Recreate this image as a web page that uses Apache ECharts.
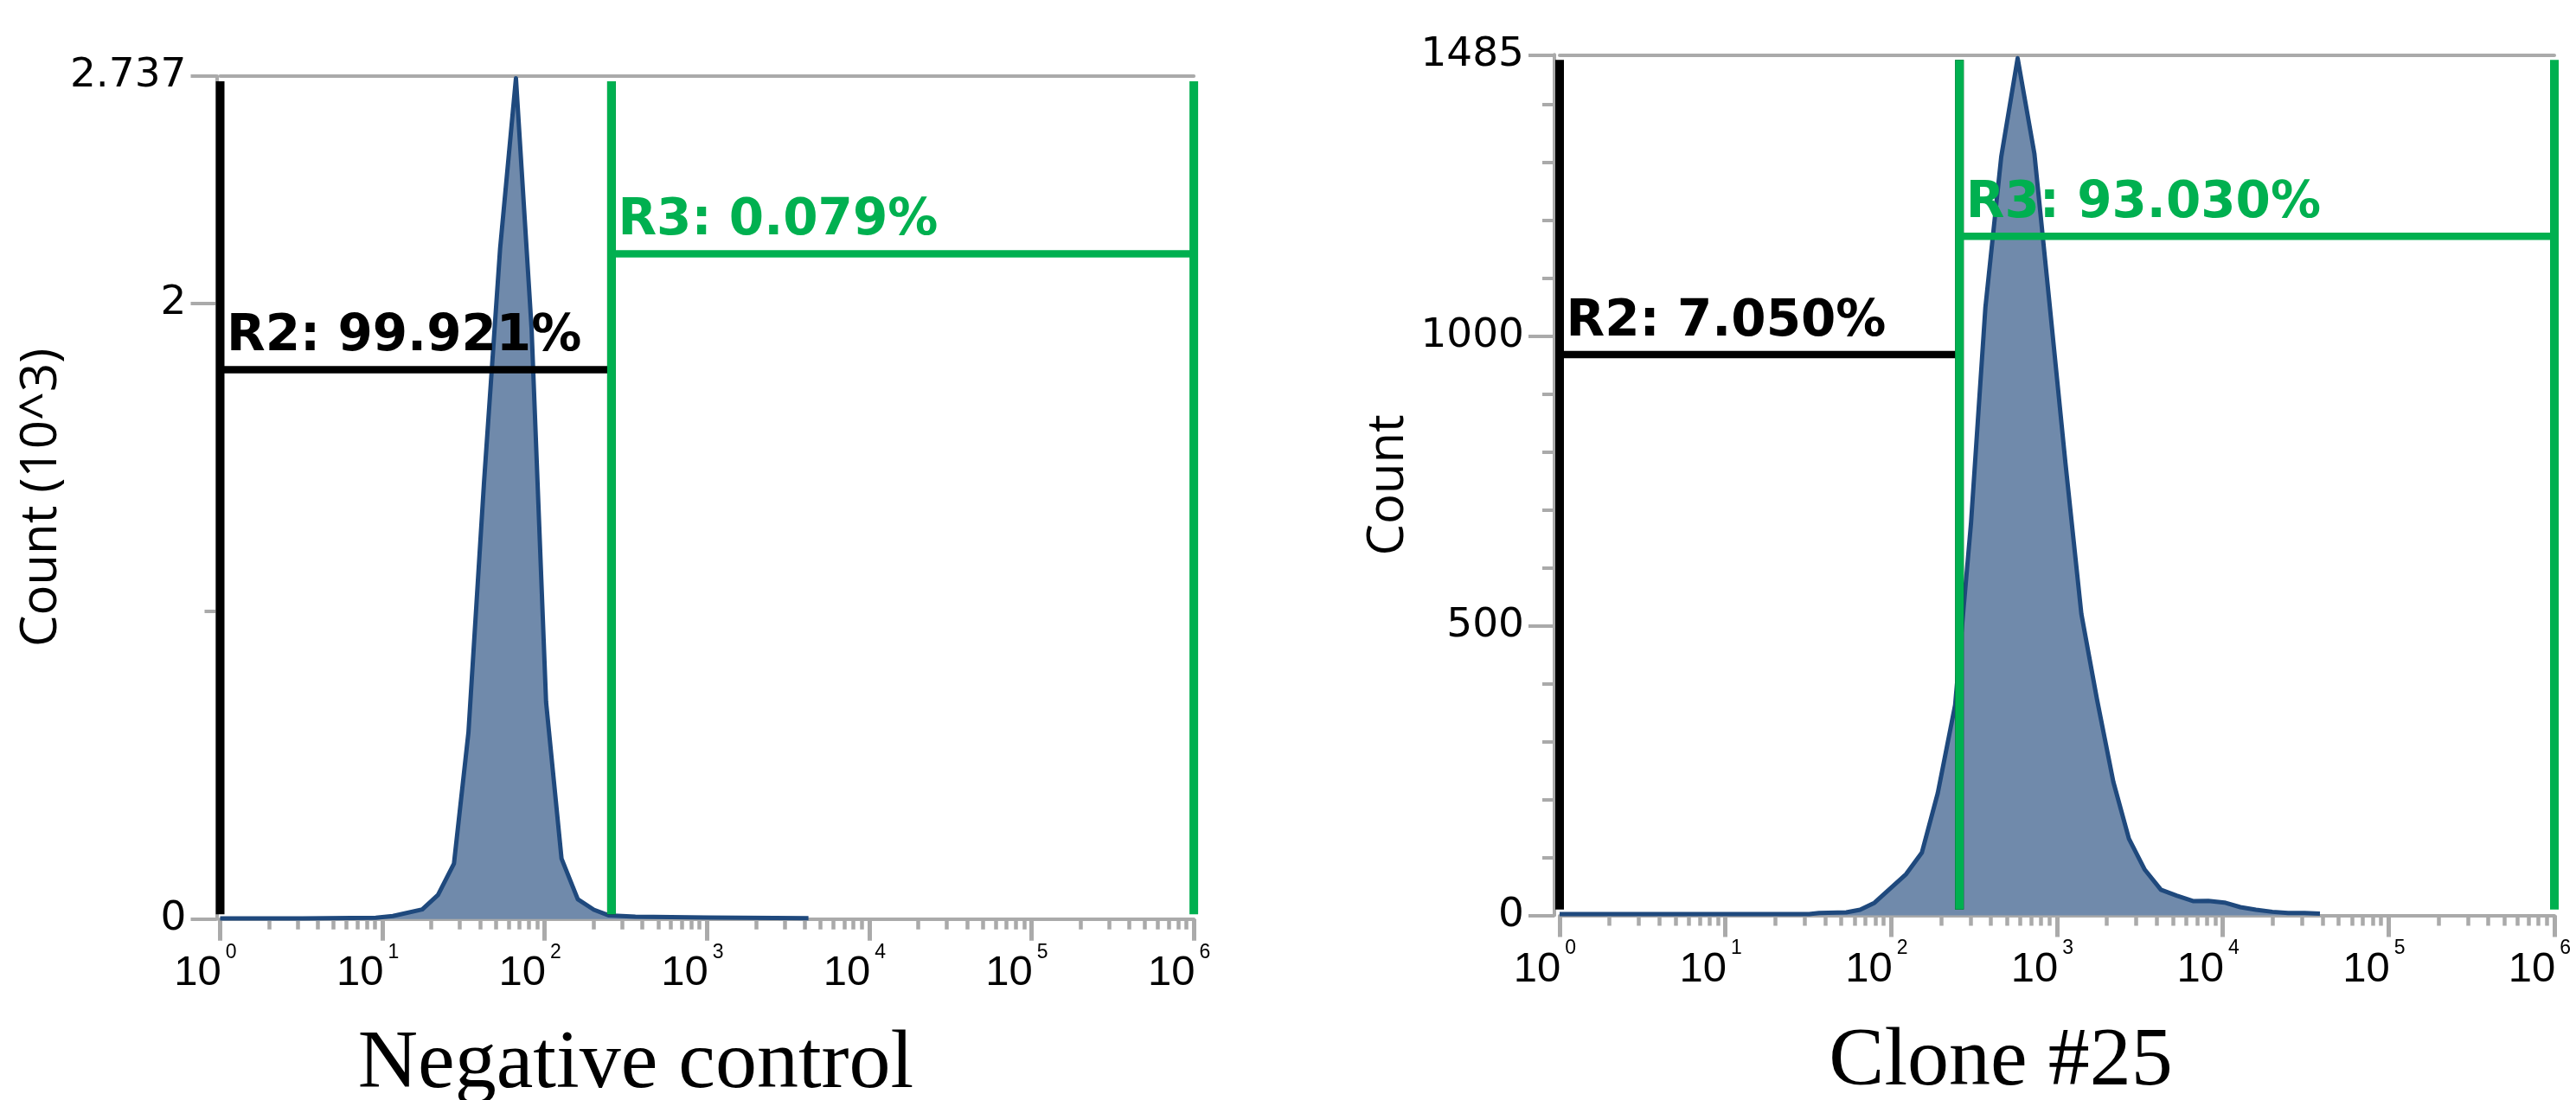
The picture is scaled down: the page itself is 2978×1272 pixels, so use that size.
<!DOCTYPE html>
<html>
<head>
<meta charset="utf-8">
<script src="https://cdn.jsdelivr.net/npm/echarts@6/dist/echarts.min.js"></script>
<style>
html,body{margin:0;padding:0;background:#ffffff;}
#c{width:2978px;height:1272px;}
</style>
</head>
<body>
<div id="c"></div>
<script>
// ---------------- DATA ----------------
// Negative control histogram (fluorescence intensity, count in 10^3)
const ncIntensity = [1, 3.2, 9.1, 11.6, 17.6, 22.0, 27.6, 33.9, 42.3, 53.1, 66.5, 83.0, 102, 127, 160, 201, 247, 362, 1000, 4220];
const ncCount = [0.002, 0.002, 0.004, 0.0096, 0.031, 0.078, 0.18, 0.606, 1.42, 2.176, 2.73, 1.918, 0.704, 0.196, 0.064, 0.03, 0.012, 0.0076, 0.005, 0.003];

// Clone #25 histogram (fluorescence intensity, count)
const clIntensity = [1, 10, 32, 36.7, 53.6, 64.9, 79.3, 96.8, 123, 153, 191, 243, 303, 370, 461, 579, 731, 899, 1125, 1403, 1742, 2188, 2716, 3388, 4236, 5260, 6607, 8185, 10230, 12760, 15850, 19910, 24770, 31120, 38550];
const clCount = [2, 2, 2, 4, 5, 9.6, 21.6, 44, 71, 108, 211, 363, 677, 1049, 1309, 1479, 1314, 1059, 780, 520, 373, 230, 132, 78.5, 44, 34, 24.5, 25, 22, 14, 9.5, 6, 4, 4, 3];

// Axis ticks
const xTickExponents = [0, 1, 2, 3, 4, 5, 6];
const ncYTicks = [0, 2, 2.737];
const ncYMinorTicks = [1];
const clYTicks = [0, 500, 1000, 1485];
const clYMinorTicks = [100, 200, 300, 400, 600, 700, 800, 900, 1100, 1200, 1300, 1400];

// Gates
const gateNames = ['R2', 'R3'];
const gateEdges = [1, 258, 1e6];          // R2 = [1, 258], R3 = [258, 1e6]
const ncGatePct = ['99.921%', '0.079%'];
const clGatePct = ['7.050%', '93.030%'];
const ncGateLevels = [1.784, 2.16];
const clGateLevels = [967.6, 1171.8];
const ncGateSpan = [0.015, 2.72];
const clGateSpan = [10, 1476];

const panelTitles = ['Negative control', 'Clone #25'];
const yNames = ['Count (10^3)', 'Count'];

// ---------------- STYLE ----------------
const GREY = '#aaaaaa';
const LINE = '#1f497d';
const FILL = '#708aab';
const GATE_COLORS = ['#000000', '#00b050'];

const minorExps = [];
for (let n = 0; n < 6; n++) for (let k = 2; k <= 9; k++) minorExps.push(n + Math.log10(k));

function pairs(xs, ys) { return xs.map((x, i) => [x, ys[i]]); }

function xAxesFor(gi) {
  return [
    { type: 'log', gridIndex: gi, logBase: 10, min: 1, max: 1e6, show: false },
    {
      type: 'value', gridIndex: gi, min: 0, max: 6, interval: 1, position: 'bottom',
      axisLine: { show: true, onZero: false, lineStyle: { color: GREY, width: 4 } },
      axisTick: { show: true, length: 25, customValues: xTickExponents, lineStyle: { color: GREY, width: 5 } },
      axisLabel: {
        show: true, margin: 27, padding: [0, 34, 0, 0], customValues: xTickExponents,
        formatter: v => '{b|10}{s|' + v + '}',
        rich: {
          b: { fontFamily: 'Liberation Sans', fontSize: 49, lineHeight: 72, color: '#000' },
          s: { fontFamily: 'Liberation Sans', fontSize: 23, lineHeight: 23, verticalAlign: 'top', padding: [0, 0, 0, 5], color: '#000' }
        }
      },
      splitLine: { show: false }
    },
    {
      type: 'value', gridIndex: gi, min: 0, max: 6, position: 'bottom',
      axisLine: { show: false, onZero: false },
      axisTick: { show: true, length: 12, customValues: minorExps, lineStyle: { color: GREY, width: 4.5 } },
      axisLabel: { show: false },
      splitLine: { show: false }
    },
    {
      type: 'value', gridIndex: gi, min: 0, max: 6, position: 'top',
      axisLine: { show: true, onZero: false, lineStyle: { color: GREY, width: 4 } },
      axisTick: { show: false }, axisLabel: { show: false }, splitLine: { show: false }
    }
  ];
}

function yAxesFor(gi, ymax, ticks, minor, name, offset) {
  return [
    {
      type: 'value', gridIndex: gi, min: 0, max: ymax, position: 'left', offset: offset,
      axisLine: { show: true, onZero: false, lineStyle: { color: GREY, width: 4 } },
      axisTick: { show: true, length: 30, customValues: ticks, lineStyle: { color: GREY, width: 4 } },
      axisLabel: { show: true, customValues: ticks, margin: 35, formatter: v => String(v),
        fontFamily: 'DejaVu Sans', fontSize: 47, color: '#000' },
      splitLine: { show: false },
      name: name, nameLocation: 'middle', nameGap: 163,
      nameTextStyle: { fontFamily: 'Open Sans', fontSize: 58, color: '#000' }
    },
    {
      type: 'value', gridIndex: gi, min: 0, max: ymax, position: 'left', offset: offset,
      axisLine: { show: false, onZero: false },
      axisTick: { show: true, length: 14, customValues: minor, lineStyle: { color: GREY, width: 4 } },
      axisLabel: { show: false }, splitLine: { show: false }
    }
  ];
}

function histSeries(xi, yi, xs, ys) {
  return {
    type: 'line', xAxisIndex: xi, yAxisIndex: yi, data: pairs(xs, ys),
    symbol: 'none', silent: true, z: 2,
    lineStyle: { color: LINE, width: 5, join: 'round' },
    areaStyle: { color: FILL, opacity: 1 }
  };
}

function gateSeries(xi, yi, levels, span, pcts) {
  const out = [];
  gateNames.forEach((g, i) => {
    const x0 = gateEdges[i], x1 = gateEdges[i + 1], c = GATE_COLORS[i];
    const base = { type: 'line', xAxisIndex: xi, yAxisIndex: yi, symbol: 'none', silent: true, clip: false, z: 3 + i };
    out.push(Object.assign({}, base, { data: [[x0, span[0]], [x0, span[1]]], lineStyle: { color: c, width: 10, cap: 'butt' } }));
    out.push(Object.assign({}, base, { data: [[x1, span[0]], [x1, span[1]]], lineStyle: { color: c, width: 10, cap: 'butt' } }));
    out.push(Object.assign({}, base, { data: [[x0, levels[i]], [x1, levels[i]]], lineStyle: { color: c, width: 8.5, cap: 'butt' } }));
    out.push({
      type: 'scatter', xAxisIndex: xi, yAxisIndex: yi, data: [[x0, levels[i]]],
      symbol: 'circle', symbolSize: 1, itemStyle: { color: 'rgba(0,0,0,0)' },
      clip: false, silent: true, z: 6,
      label: {
        show: true, formatter: g + ': ' + pcts[i], position: [8, -8],
        align: 'left', verticalAlign: 'bottom', opacity: 1,
        textBorderWidth: 0, textShadowBlur: 0,
        fontFamily: 'DejaVu Sans', fontWeight: 'bold', fontSize: 58, color: c
      }
    });
  });
  return out;
}

const option = {
  backgroundColor: '#ffffff',
  animation: false,
  grid: [
    { left: 254.5, top: 88, width: 1125.6, height: 974.7 },
    { left: 1803, top: 63.3, width: 1150, height: 995.1 }
  ],
  xAxis: [].concat(xAxesFor(0), xAxesFor(1)),
  yAxis: [].concat(
    yAxesFor(0, 2.737, ncYTicks, ncYMinorTicks, yNames[0], 4),
    yAxesFor(1, 1485, clYTicks, clYMinorTicks, yNames[1], 6)
  ),
  series: [].concat(
    [histSeries(0, 0, ncIntensity, ncCount)],
    gateSeries(0, 0, ncGateLevels, ncGateSpan, ncGatePct),
    [histSeries(4, 2, clIntensity, clCount)],
    gateSeries(4, 2, clGateLevels, clGateSpan, clGatePct)
  ),
  graphic: [
    { type: 'text', x: 735, y: 1232, silent: true,
      style: { text: panelTitles[0], fontFamily: 'Liberation Serif', fontSize: 96, fill: '#000',
               align: 'center', verticalAlign: 'middle', textAlign: 'center', textVerticalAlign: 'middle' } },
    { type: 'text', x: 2313, y: 1229, silent: true,
      style: { text: panelTitles[1], fontFamily: 'Liberation Serif', fontSize: 96, fill: '#000',
               align: 'center', verticalAlign: 'middle', textAlign: 'center', textVerticalAlign: 'middle' } }
  ]
};

const chart = echarts.init(document.getElementById('c'), null, { renderer: 'canvas' });
chart.setOption(option);
</script>
</body>
</html>
